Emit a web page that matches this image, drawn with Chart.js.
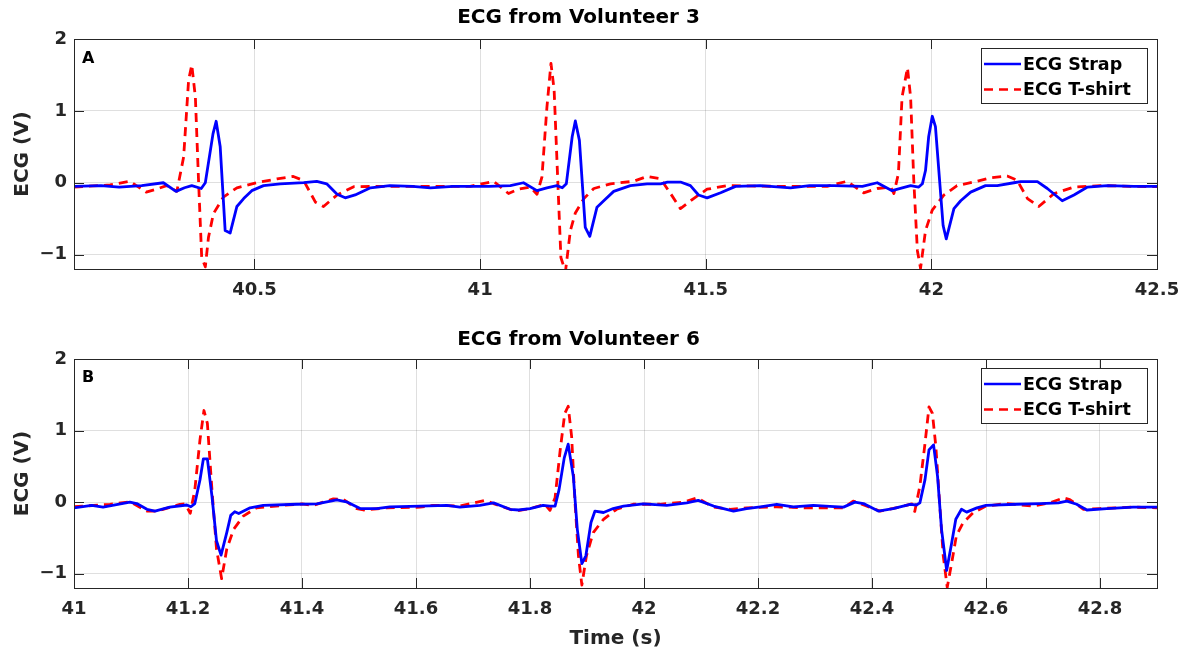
<!DOCTYPE html>
<html>
<head>
<meta charset="utf-8">
<title>ECG Strap vs T-shirt</title>
<script src="https://cdn.jsdelivr.net/npm/chart.js@4.4.1/dist/chart.umd.min.js"></script>
<style>
  html, body { margin: 0; padding: 0; background: #fff; }
  #page { position: relative; width: 1183px; height: 654px; }
  .panel { position: absolute; left: 0; width: 1183px; }
  #panelA { top: 0; height: 300px; }
  #panelB { top: 320px; height: 334px; }
</style>
</head>
<body>
<div id="page">
  <div class="panel" id="panelA"><canvas id="ecg3"></canvas></div>
  <div class="panel" id="panelB"><canvas id="ecg6"></canvas></div>
</div>
<script>
// Volunteer 3 — strap (solid) and T-shirt (dashed), time in s, ECG in V
const strap3T = [40.10, 40.16, 40.20, 40.25, 40.298, 40.326, 40.345, 40.361, 40.382, 40.391, 40.408, 40.415, 40.424, 40.435, 40.446, 40.461, 40.476, 40.494, 40.520, 40.557, 40.609, 40.638, 40.660, 40.683, 40.701, 40.723, 40.757, 40.80, 40.85, 40.89, 40.94, 40.978,
  41.02, 41.067, 41.096, 41.126, 41.148, 41.17, 41.182, 41.191, 41.204, 41.211, 41.22, 41.233, 41.243, 41.259, 41.274, 41.296, 41.333, 41.37, 41.40, 41.415, 41.444, 41.466, 41.484, 41.503, 41.533, 41.566, 41.621, 41.688, 41.73, 41.784, 41.847, 41.88, 41.913, 41.954, 41.972, 41.98, 41.987, 41.994,
  42.002, 42.009, 42.017, 42.026, 42.033, 42.05, 42.065, 42.087, 42.12, 42.146, 42.183, 42.198, 42.235, 42.257, 42.29, 42.316, 42.346, 42.39, 42.449, 42.50];
const strap3V = [-0.05, -0.04, -0.06, -0.04, 0.0, -0.12, -0.07, -0.04, -0.08, 0.0, 0.68, 0.855, 0.50, -0.665, -0.70, -0.33, -0.22, -0.11, -0.04, -0.015, 0.003, 0.018, -0.015, -0.16, -0.21, -0.17, -0.07, -0.04, -0.05, -0.07, -0.05, -0.05,
  -0.05, -0.04, 0.0, -0.11, -0.07, -0.04, -0.07, -0.015, 0.64, 0.86, 0.59, -0.62, -0.745, -0.34, -0.25, -0.12, -0.04, -0.015, -0.015, 0.01, 0.01, -0.04, -0.17, -0.21, -0.14, -0.05, -0.04, -0.07, -0.04, -0.04, -0.05, 0.0, -0.11, -0.04, -0.06, -0.015, 0.17, 0.64,
  0.925, 0.78, 0.13, -0.595, -0.78, -0.36, -0.25, -0.13, -0.04, -0.04, 0.0, 0.015, 0.015, -0.08, -0.25, -0.17, -0.06, -0.04, -0.05, -0.05];
const shirt3T = [40.10, 40.18, 40.224, 40.26, 40.287, 40.305, 40.328, 40.343, 40.354, 40.361, 40.369, 40.376, 40.383, 40.391, 40.398, 40.409, 40.431, 40.461, 40.505, 40.55, 40.586, 40.609, 40.635, 40.653, 40.683, 40.72, 40.78, 40.88, 40.978,
  41.03, 41.063, 41.085, 41.111, 41.126, 41.137, 41.148, 41.157, 41.164, 41.172, 41.179, 41.189, 41.20, 41.211, 41.23, 41.252, 41.289, 41.34, 41.37, 41.40, 41.422, 41.444, 41.473, 41.503, 41.547, 41.658, 41.769, 41.813, 41.85, 41.88, 41.91, 41.917, 41.927, 41.935, 41.947, 41.954, 41.961, 41.969, 41.976, 41.987,
  42.002, 42.028, 42.057, 42.094, 42.131, 42.168, 42.19, 42.213, 42.238, 42.272, 42.316, 42.375, 42.449, 42.50];
const shirt3V = [-0.06, -0.03, 0.02, -0.13, -0.08, -0.04, -0.12, 0.36, 1.43, 1.64, 1.19, 0.03, -1.04, -1.17, -0.76, -0.43, -0.2, -0.07, 0.0, 0.055, 0.088, 0.03, -0.27, -0.33, -0.17, -0.055, -0.05, -0.05, -0.05,
  0.02, -0.15, -0.09, -0.06, -0.16, 0.08, 1.05, 1.66, 1.29, 0.04, -1.04, -1.24, -0.665, -0.42, -0.22, -0.08, -0.015, 0.02, 0.088, 0.055, -0.15, -0.36, -0.22, -0.09, -0.04, -0.05, -0.05, 0.02, -0.14, -0.08, -0.06, -0.15, 0.13, 1.19, 1.60, 1.19, 0.035, -0.945, -1.19, -0.665,
  -0.38, -0.17, -0.04, 0.01, 0.07, 0.093, 0.035, -0.22, -0.33, -0.15, -0.06, -0.04, -0.05, -0.055];

// Volunteer 6
const strap6T = [41.000, 41.031, 41.051, 41.098, 41.11, 41.128, 41.142, 41.168, 41.198, 41.205, 41.212, 41.221, 41.227, 41.234, 41.242, 41.25, 41.258, 41.268, 41.275, 41.282, 41.289, 41.309, 41.332, 41.391, 41.426, 41.461, 41.478, 41.502, 41.531, 41.554, 41.607, 41.654, 41.677,
  41.712, 41.736, 41.765, 41.78, 41.80, 41.823, 41.835, 41.844, 41.851, 41.86, 41.867, 41.876, 41.883, 41.891, 41.898, 41.907, 41.914, 41.929, 41.946, 41.964, 41.999, 42.04, 42.075, 42.095, 42.122, 42.157, 42.18, 42.204, 42.233, 42.262, 42.297, 42.326, 42.35, 42.37,
  42.385, 42.411, 42.437, 42.467, 42.478, 42.484, 42.493, 42.50, 42.508, 42.515, 42.522, 42.531, 42.54, 42.547, 42.557, 42.566, 42.584, 42.60, 42.654, 42.695, 42.727, 42.742, 42.759, 42.777, 42.812, 42.858, 42.90];
const strap6V = [-0.08, -0.045, -0.07, 0.0, -0.02, -0.10, -0.125, -0.07, -0.04, -0.065, -0.02, 0.31, 0.605, 0.605, 0.085, -0.54, -0.74, -0.425, -0.185, -0.135, -0.16, -0.08, -0.045, -0.03, -0.025, 0.03, 0.005, -0.09, -0.09, -0.065, -0.055, -0.045, -0.07,
  -0.045, -0.01, -0.10, -0.11, -0.09, -0.045, -0.055, -0.055, 0.175, 0.615, 0.81, 0.36, -0.38, -0.86, -0.75, -0.285, -0.125, -0.145, -0.09, -0.055, -0.025, -0.045, -0.01, 0.025, -0.055, -0.125, -0.09, -0.065, -0.03, -0.065, -0.045, -0.06, -0.07, 0.0,
  -0.02, -0.125, -0.09, -0.03, -0.04, -0.01, 0.315, 0.73, 0.80, 0.36, -0.38, -0.955, -0.56, -0.24, -0.10, -0.14, -0.08, -0.045, -0.03, -0.02, -0.01, 0.015, -0.03, -0.11, -0.09, -0.07, -0.07];
const shirt6T = [41.000, 41.063, 41.098, 41.128, 41.146, 41.186, 41.195, 41.204, 41.212, 41.221, 41.228, 41.234, 41.242, 41.25, 41.259, 41.268, 41.28, 41.297, 41.32, 41.367, 41.40, 41.42, 41.455, 41.472, 41.496, 41.508, 41.549, 41.607, 41.63, 41.677,
  41.721, 41.736, 41.774, 41.80, 41.826, 41.835, 41.844, 41.853, 41.861, 41.867, 41.873, 41.879, 41.885, 41.891, 41.899, 41.911, 41.929, 41.952, 41.981, 42.028, 42.069, 42.093, 42.122, 42.151, 42.18, 42.233, 42.285, 42.35, 42.367,
  42.414, 42.449, 42.47, 42.475, 42.484, 42.493, 42.50, 42.506, 42.512, 42.519, 42.525, 42.532, 42.54, 42.548, 42.56, 42.578, 42.60, 42.636, 42.683, 42.712, 42.736, 42.747, 42.771, 42.80, 42.858, 42.90];
const shirt6V = [-0.065, -0.03, 0.005, -0.125, -0.125, -0.03, -0.025, -0.155, 0.175, 0.87, 1.28, 1.10, 0.175, -0.655, -1.07, -0.655, -0.38, -0.195, -0.08, -0.045, -0.025, -0.045, 0.045, 0.04, -0.09, -0.11, -0.08, -0.07, -0.045, -0.055,
  0.025, -0.02, -0.125, -0.09, -0.03, -0.115, 0.06, 0.73, 1.24, 1.34, 0.92, -0.01, -0.75, -1.16, -0.75, -0.425, -0.24, -0.10, -0.03, -0.03, 0.0, 0.06, -0.07, -0.10, -0.08, -0.065, -0.08, -0.08, 0.015,
  -0.125, -0.07, -0.025, -0.13, 0.225, 0.82, 1.33, 1.24, 0.78, -0.055, -0.75, -1.19, -0.84, -0.47, -0.285, -0.145, -0.055, -0.02, -0.055, -0.01, 0.06, 0.035, -0.10, -0.09, -0.07, -0.08];

const seriesLabels = ['ECG Strap', 'ECG T-shirt'];
const yTicks = [-1, 0, 1, 2];

const ink = '#262626';
const fontFamily = "'DejaVu Sans', 'Liberation Sans', sans-serif";
const gridColor = 'rgba(38, 38, 38, 0.15)';

const pairs = (ts, vs) => ts.map((t, i) => ({ x: t, y: vs[i] }));
const fmt = v => String(+v.toFixed(2)).replace('-', '\u2212');

// box around the axes, inward ticks on all four sides, boxed legend and panel letter
const axesDecor = {
  id: 'axesDecor',
  afterDraw(chart, args, opts) {
    const { ctx, chartArea: a, scales } = chart;
    const tl = 10;
    ctx.save();
    ctx.strokeStyle = ink;
    ctx.lineWidth = 1;
    ctx.setLineDash([]);
    ctx.beginPath();
    scales.x.ticks.forEach(t => {
      const px = Math.round(scales.x.getPixelForValue(t.value)) + 0.5;
      ctx.moveTo(px, a.bottom); ctx.lineTo(px, a.bottom - tl);
      ctx.moveTo(px, a.top); ctx.lineTo(px, a.top + tl);
    });
    scales.y.ticks.forEach(t => {
      const py = Math.round(scales.y.getPixelForValue(t.value)) + 0.5;
      ctx.moveTo(a.left, py); ctx.lineTo(a.left + tl, py);
      ctx.moveTo(a.right, py); ctx.lineTo(a.right - tl, py);
    });
    ctx.stroke();
    ctx.strokeRect(Math.round(a.left) + 0.5, Math.round(a.top) + 0.5, Math.round(a.right - a.left), Math.round(a.bottom - a.top));

    // legend
    const w = 166, h = 55;
    const x0 = Math.round(a.right - 10 - w), y0 = Math.round(a.top + 9);
    ctx.fillStyle = '#fff';
    ctx.fillRect(x0, y0, w, h);
    ctx.strokeRect(x0 + 0.5, y0 + 0.5, w, h);
    ctx.font = 'bold 17.5px ' + fontFamily;
    ctx.textBaseline = 'middle';
    ctx.textAlign = 'left';
    chart.data.datasets.forEach((ds, i) => {
      const y = y0 + 16 + i * 25.5;
      ctx.save();
      ctx.strokeStyle = ds.borderColor;
      ctx.lineWidth = 2.4;
      ctx.setLineDash(ds.borderDash || []);
      ctx.beginPath();
      ctx.moveTo(x0 + 3, y);
      ctx.lineTo(x0 + 40, y);
      ctx.stroke();
      ctx.restore();
      ctx.fillStyle = '#000';
      ctx.fillText(ds.label, x0 + 42, y + 1);
    });

    // panel letter
    ctx.font = 'bold 16px ' + fontFamily;
    ctx.fillStyle = '#000';
    ctx.fillText(opts.letter, a.left + 8, a.top + opts.letterDy);
    ctx.restore();
  }
};

function makeEcgChart(id, cfg) {
  return new Chart(document.getElementById(id), {
    type: 'line',
    data: {
      datasets: [
        {
          label: seriesLabels[0],
          data: cfg.strap,
          borderColor: '#0000ff',
          borderWidth: 2.8,
          borderJoinStyle: 'round',
          pointRadius: 0,
          tension: 0
        },
        {
          label: seriesLabels[1],
          data: cfg.shirt,
          borderColor: '#ff0000',
          borderWidth: 2.8,
          borderDash: [9, 6],
          borderJoinStyle: 'round',
          pointRadius: 0,
          tension: 0
        }
      ]
    },
    options: {
      responsive: true,
      maintainAspectRatio: false,
      animation: false,
      events: [],
      layout: { padding: { left: 0, right: 26, top: 0, bottom: 0 } },
      plugins: {
        legend: { display: false },
        tooltip: { enabled: false },
        title: {
          display: true,
          text: cfg.title,
          color: '#000',
          font: { family: fontFamily, size: 20, weight: 'bold' },
          padding: cfg.titlePadding
        },
        axesDecor: { letter: cfg.letter, letterDy: cfg.letterDy }
      },
      scales: {
        x: {
          type: 'linear',
          min: cfg.xMin,
          max: cfg.xMax,
          ticks: {
            stepSize: cfg.xStep,
            includeBounds: false,
            autoSkip: false,
            maxRotation: 0,
            padding: 11,
            color: ink,
            font: { family: fontFamily, size: 18, weight: 'bold' },
            callback: fmt
          },
          grid: { color: gridColor, drawTicks: false },
          border: { display: false },
          title: {
            display: !!cfg.xTitle,
            text: cfg.xTitle || '',
            color: ink,
            font: { family: fontFamily, size: 20, weight: 'bold' },
            padding: { top: 0, bottom: 3 }
          },
          afterFit: s => {
            s.height = cfg.xAxisHeight;
            // edge tick labels may hang past the plot box
            s.paddingLeft = 0;
            s.paddingRight = 0;
          }
        },
        y: {
          type: 'linear',
          min: -1.2,
          max: 2,
          ticks: {
            stepSize: 1,
            includeBounds: false,
            padding: 7,
            color: ink,
            font: { family: fontFamily, size: 18, weight: 'bold' },
            callback: fmt
          },
          afterBuildTicks: s => { s.ticks = yTicks.map(v => ({ value: v })); },
          grid: { color: gridColor, drawTicks: false },
          border: { display: false },
          title: {
            display: true,
            text: 'ECG (V)',
            color: ink,
            font: { family: fontFamily, size: 20, weight: 'bold' },
            padding: { top: 11, bottom: 0 }
          },
          afterFit: s => { s.width = 74; }
        }
      }
    },
    plugins: [axesDecor]
  });
}

makeEcgChart('ecg3', {
  title: 'ECG from Volunteer 3',
  titlePadding: { top: 6, bottom: 9 },
  strap: pairs(strap3T, strap3V),
  shirt: pairs(shirt3T, shirt3V),
  xMin: 40.1, xMax: 42.5, xStep: 0.5,
  xAxisHeight: 31,
  letter: 'A', letterDy: 20
});

makeEcgChart('ecg6', {
  title: 'ECG from Volunteer 6',
  titlePadding: { top: 8, bottom: 7 },
  strap: pairs(strap6T, strap6V),
  shirt: pairs(shirt6T, shirt6V),
  xMin: 41, xMax: 42.9, xStep: 0.2,
  xTitle: 'Time (s)',
  xAxisHeight: 66,
  letter: 'B', letterDy: 19
});
</script>
</body>
</html>
